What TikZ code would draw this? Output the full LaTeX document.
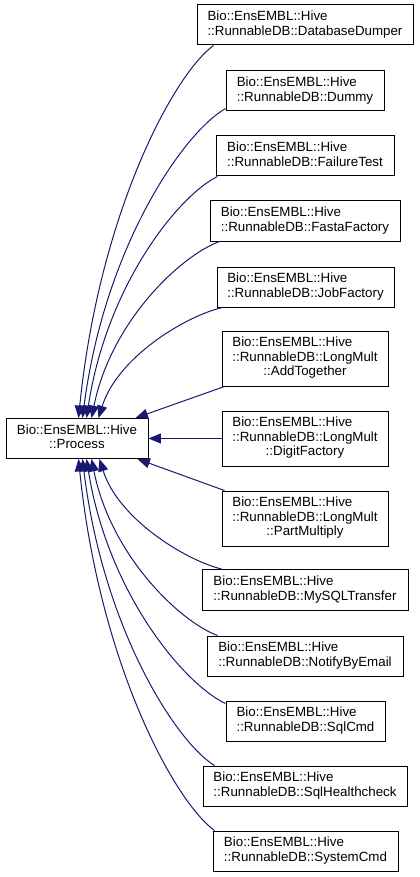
\documentclass[tikz,border=0pt]{standalone}
\usepackage{fontspec}
\setmainfont{Liberation Sans}
\usetikzlibrary{arrows.meta,calc}
\definecolor{mblue}{HTML}{191970}
\newcommand{\twoline}[2]{\begin{tabular}{@{}l@{}}#1\\\multicolumn{1}{@{}c@{}}{#2}\end{tabular}}
\newcommand{\threeline}[3]{\begin{tabular}{@{}l@{}}#1\\#2\\\multicolumn{1}{@{}c@{}}{#3}\end{tabular}}
\begin{document}
\begin{tikzpicture}[x=0.75pt,y=-0.75pt,
  cls/.style={draw=black,line width=0.75pt,fill=white,inner sep=0pt,font=\fontsize{10}{10.9}\selectfont},
  bx/.style 2 args={minimum width=#1*0.75pt,minimum height=#2*0.75pt},
  inh/.style={draw=mblue,line width=0.75pt,-{Triangle[length=9.3pt,width=7.5pt]}}]
\useasboundingbox (0,0) rectangle (419,877);
\node[cls,bx={142}{40}] (P) at (77,438.5) {\twoline{Bio::EnsEMBL::Hive}{::Process}};
\node[cls,bx={216}{40}] (DD) at (305,25) {\twoline{Bio::EnsEMBL::Hive}{::RunnableDB::DatabaseDumper}};
\node[cls,bx={158}{40}] (DM) at (305,91) {\twoline{Bio::EnsEMBL::Hive}{::RunnableDB::Dummy}};
\node[cls,bx={178}{40}] (FT) at (305,156) {\twoline{Bio::EnsEMBL::Hive}{::RunnableDB::FailureTest}};
\node[cls,bx={190}{40}] (FF) at (305,221) {\twoline{Bio::EnsEMBL::Hive}{::RunnableDB::FastaFactory}};
\node[cls,bx={177}{40}] (JF) at (305.5,287) {\twoline{Bio::EnsEMBL::Hive}{::RunnableDB::JobFactory}};
\node[cls,bx={166}{55}] (AT) at (305,358.5) {\threeline{Bio::EnsEMBL::Hive}{::RunnableDB::LongMult}{::AddTogether}};
\node[cls,bx={166}{55}] (DF) at (305,438.5) {\threeline{Bio::EnsEMBL::Hive}{::RunnableDB::LongMult}{::DigitFactory}};
\node[cls,bx={166}{55}] (PM) at (305,518.5) {\threeline{Bio::EnsEMBL::Hive}{::RunnableDB::LongMult}{::PartMultiply}};
\node[cls,bx={206}{41}] (MT) at (305,590) {\twoline{Bio::EnsEMBL::Hive}{::RunnableDB::MySQLTransfer}};
\node[cls,bx={196}{40}] (NE) at (305,656) {\twoline{Bio::EnsEMBL::Hive}{::RunnableDB::NotifyByEmail}};
\node[cls,bx={159}{40}] (SC) at (305.5,721) {\twoline{Bio::EnsEMBL::Hive}{::RunnableDB::SqlCmd}};
\node[cls,bx={204}{40}] (SH) at (305,786) {\twoline{Bio::EnsEMBL::Hive}{::RunnableDB::SqlHealthcheck}};
\node[cls,bx={185}{40}] (SY) at (305.5,851) {\twoline{Bio::EnsEMBL::Hive}{::RunnableDB::SystemCmd}};
% upper curves
\draw[inh] ($(DD.south west)+(17,0)$) .. controls (173.5,74.8) and (99.3,213) .. ($(P.north west)+(73,0)$);
\draw[inh] ($(DM.south west)+(0,-3)$) .. controls (183,133) and (104.5,247.5) .. ($(P.north west)+(77,0)$);
\draw[inh] ($(FT.south west)+(2,0)$) .. controls (178.7,195.4) and (106.7,284.9) .. ($(P.north west)+(81,0)$);
\draw[inh] ($(FF.south west)+(10,0)$) .. controls (181.6,255.2) and (111.2,320.6) .. ($(P.north west)+(86,0)$);
\draw[inh] ($(JF.south west)+(6,0)$) .. controls (185.8,315.9) and (117.6,357) .. ($(P.north west)+(93,0)$);
% straight
\draw[inh] ($(AT.south west)+(3,0)$) -- ($(P.north east)+(-13,0)$);
\draw[inh] (DF.west) -- (P.east);
\draw[inh] ($(PM.north west)+(3,0)$) -- ($(P.south east)+(-11,0)$);
% lower curves
\draw[inh] ($(MT.north west)+(20,0)$) .. controls (185.4,560.1) and (118.3,519) .. ($(P.south west)+(94,0)$);
\draw[inh] ($(NE.north west)+(11,0)$) .. controls (180.2,621.8) and (110.9,555.9) .. ($(P.south west)+(86,0)$);
\draw[inh] ($(SC.north west)+(0,3)$) .. controls (184.3,684.3) and (107.9,593.3) .. ($(P.south west)+(81,0)$);
\draw[inh] ($(SH.north west)+(12,0)$) .. controls (175.4,741.4) and (102.8,627.4) .. ($(P.south west)+(77,0)$);
\draw[inh] ($(SY.north west)+(2,0)$) .. controls (174.2,801.2) and (99.4,663.2) .. ($(P.south west)+(73,0)$);
\end{tikzpicture}
\end{document}
